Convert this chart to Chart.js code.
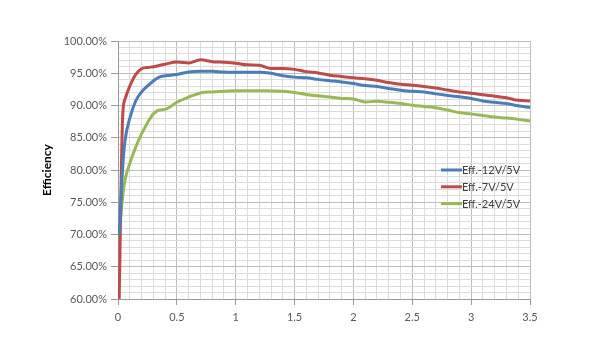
<!DOCTYPE html>
<html>
<head>
<meta charset="utf-8">
<script src="https://cdn.jsdelivr.net/npm/chart.js@4/dist/chart.umd.min.js"></script>
<style>
html,body{margin:0;padding:0;background:#fff;}
#wrap{width:594px;height:351px;position:relative;}
</style>
</head>
<body>
<div id="wrap"><canvas id="c" width="594" height="351"></canvas></div>
<script>
// Load current (A)
const loadCurrent = [0.01,0.04,0.06,0.1,0.15,0.2,0.25,0.3,0.35,0.4,0.5,0.6,0.7,0.8,0.9,1.0,1.1,1.2,1.3,1.4,1.5,1.6,1.7,1.8,1.9,2.0,2.1,2.2,2.3,2.4,2.5,2.6,2.7,2.8,2.9,3.0,3.1,3.2,3.3,3.4,3.5];
// Efficiency (%)
const eff12V = [70,80.5,84.6,88.0,90.7,92.1,93.0,93.8,94.4,94.6,94.8,95.2,95.3,95.3,95.2,95.15,95.15,95.15,95.0,94.6,94.4,94.3,94.05,93.85,93.65,93.4,93.1,92.95,92.65,92.35,92.2,92.1,91.8,91.55,91.35,91.1,90.7,90.5,90.3,89.95,89.7];
const eff7V  = [60,88.5,91.0,93.0,94.8,95.7,95.9,96.0,96.2,96.4,96.75,96.6,97.1,96.8,96.7,96.55,96.3,96.25,95.75,95.75,95.6,95.25,95.05,94.7,94.5,94.3,94.15,93.9,93.55,93.3,93.15,92.95,92.7,92.4,92.1,91.9,91.65,91.45,91.2,90.8,90.7];
const eff24V = [70,76.0,78.5,81.0,83.5,85.6,87.3,88.7,89.3,89.4,90.5,91.3,91.95,92.1,92.2,92.3,92.3,92.3,92.25,92.2,92.0,91.7,91.5,91.3,91.1,91.0,90.55,90.65,90.5,90.3,90.05,89.85,89.65,89.3,88.9,88.7,88.45,88.2,88.05,87.85,87.6];
const seriesNames = ["Eff.-12V/5V","Eff.-7V/5V","Eff.-24V/5V"];
const seriesColors = ["#4A7EBB","#BE4B48","#98B954"];
const yAxisTitle = "Efficiency";

const toPts = arr => arr.map((v,i)=>({x:loadCurrent[i], y:v}));
const seriesData = [eff12V, eff7V, eff24V];

const FONT = "Lato, 'Open Sans', 'Liberation Sans', sans-serif";

const legendPlugin = {
  id: 'insideLegend',
  afterDatasetsDraw(chart){
    const ctx = chart.ctx;
    ctx.save();
    ctx.font = "11px " + FONT;
    ctx.textBaseline = 'middle';
    ctx.textAlign = 'left';
    chart.data.datasets.forEach((ds,i)=>{
      const y = 170 + i*16.8;
      ctx.strokeStyle = ds.borderColor;
      ctx.lineWidth = 3;
      ctx.beginPath();
      ctx.moveTo(441, y);
      ctx.lineTo(462, y);
      ctx.stroke();
      ctx.fillStyle = '#404040';
      ctx.fillText(ds.label, 462, y+0.5);
    });
    ctx.restore();
  }
};

const isMajorX = v => Math.abs(Math.round(v*10) % 5) === 0;
const isMajorY = v => Math.abs(Math.round(v) % 5) === 0;

new Chart(document.getElementById('c'), {
  type: 'scatter',
  data: {
    datasets: seriesData.map((arr,i)=>({
      label: seriesNames[i],
      data: toPts(arr),
      showLine: true,
      borderColor: seriesColors[i],
      backgroundColor: seriesColors[i],
      borderWidth: 3,
      pointRadius: 0,
      tension: 0.3,
      cubicInterpolationMode: 'monotone'
    }))
  },
  options: {
    responsive: false,
    animation: false,
    layout: { padding: { top: 41, right: 64, bottom: 0, left: 0 } },
    plugins: { legend: { display: false }, tooltip: { enabled: false } },
    scales: {
      x: {
        type: 'linear',
        min: 0, max: 3.5,
        afterFit(scale){ scale.height = 52; },
        ticks: {
          stepSize: 0.1,
          autoSkip: false,
          maxRotation: 0,
          padding: 6,
          color: '#595959',
          font: { family: FONT, size: 11 },
          callback: v => isMajorX(v) ? String(Math.round(v*10)/10) : ''
        },
        grid: {
          color: ctx => isMajorX(ctx.tick.value) ? '#BDBDBD' : '#DCDCDC',
          lineWidth: 1,
          tickLength: 6,
          tickColor: ctx => isMajorX(ctx.tick.value) ? '#9A9A9A' : 'rgba(0,0,0,0)'
        },
        border: { color: '#9A9A9A' }
      },
      y: {
        type: 'linear',
        min: 60, max: 100,
        afterFit(scale){ scale.width = 118; },
        title: {
          display: true,
          text: yAxisTitle,
          color: '#000',
          font: { family: FONT, size: 12, weight: 'bold' },
          padding: { top: 40, bottom: 0 }
        },
        ticks: {
          stepSize: 1,
          autoSkip: false,
          padding: 4,
          color: '#595959',
          font: { family: FONT, size: 11 },
          callback: v => isMajorY(v) ? v.toFixed(2) + '%' : ''
        },
        grid: {
          color: ctx => isMajorY(ctx.tick.value) ? '#BDBDBD' : '#DCDCDC',
          lineWidth: 1,
          tickLength: 7,
          tickColor: ctx => isMajorY(ctx.tick.value) ? '#9A9A9A' : 'rgba(0,0,0,0)'
        },
        border: { color: '#9A9A9A' }
      }
    }
  },
  plugins: [legendPlugin]
});
</script>
</body>
</html>
